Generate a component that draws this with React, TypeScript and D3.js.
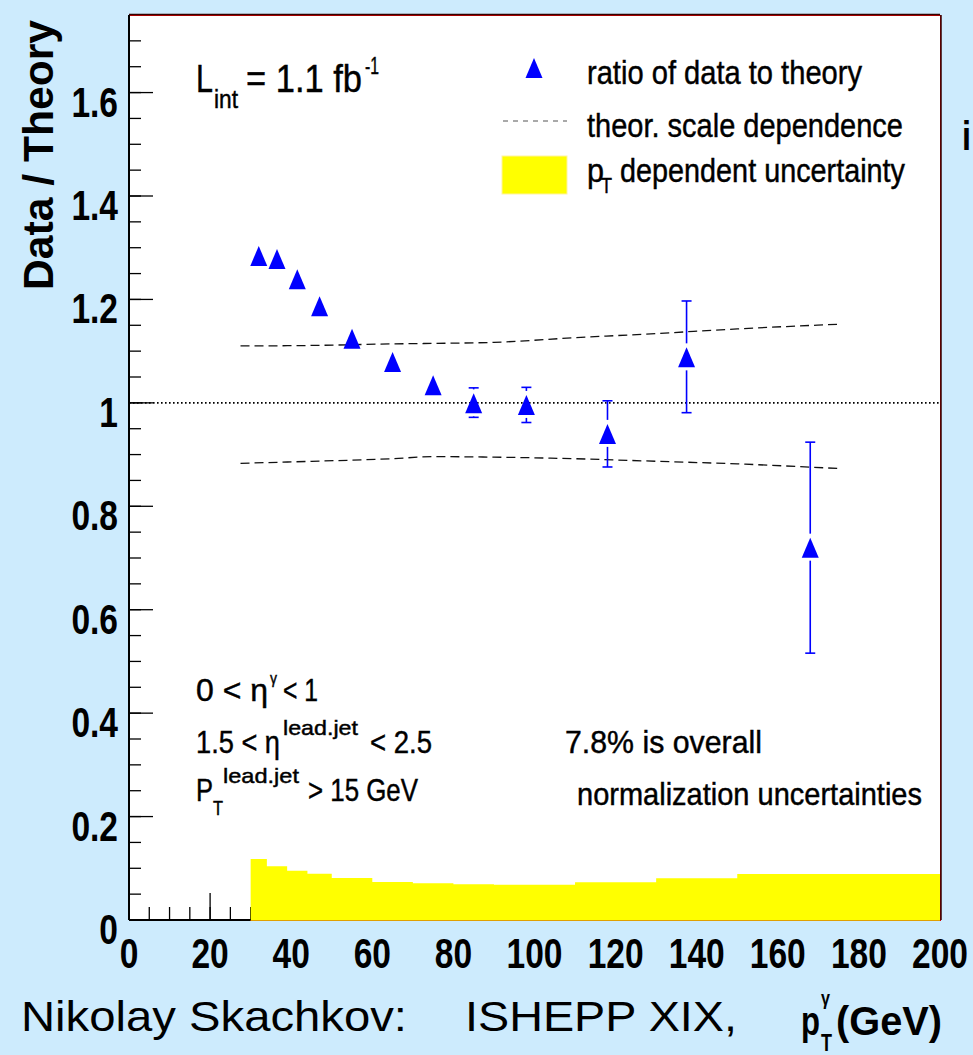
import React from "react";
import * as d3 from "d3";

// ---- data ----
const pT = [32, 36.5, 41.5, 47, 55, 65, 75, 85, 98, 118, 137.5, 168];
const ratio = [1.284, 1.278, 1.239, 1.187, 1.124, 1.079, 1.034, 0.999, 0.996, 0.94, 1.088, 0.72];
const errUp = [0.01, 0.01, 0.01, 0.01, 0.01, 0.01, 0.012, 0.03, 0.034, 0.064, 0.109, 0.204];
const errDown = [0.01, 0.01, 0.01, 0.01, 0.01, 0.01, 0.012, 0.027, 0.034, 0.064, 0.107, 0.204];

const binEdges = [30, 34, 39, 44, 50, 60, 70, 80, 90, 110, 130, 150, 200];
const ptUncert = [0.118, 0.104, 0.095, 0.0895, 0.081, 0.0734, 0.071, 0.069, 0.068, 0.0728, 0.0805, 0.0889];

const theoryX = [27.5, 45, 65, 75, 90, 110, 130, 150, 175];
const theoryUp = [1.11, 1.111, 1.114, 1.115, 1.117, 1.126, 1.134, 1.143, 1.152];
const theoryLow = [0.883, 0.887, 0.892, 0.896, 0.895, 0.892, 0.887, 0.882, 0.873];

const yMajor = [0, 0.2, 0.4, 0.6, 0.8, 1, 1.2, 1.4, 1.6];
const yMajorLabels = ["0", "0.2", "0.4", "0.6", "0.8", "1", "1.2", "1.4", "1.6"];
const xMajor = [0, 20, 40, 60, 80, 100, 120, 140, 160, 180, 200];
const xMajorLabels = ["0", "20", "40", "60", "80", "100", "120", "140", "160", "180", "200"];

const FONT = "'Liberation Sans', Arial, Helvetica, sans-serif";
const BLUE = "#0000ff";

const L = 129, R = 940, TOP = 15, BOT = 920;
const x = d3.scaleLinear().domain([0, 200]).range([L, R]);
const y = d3.scaleLinear().domain([0, 1.75]).range([BOT, TOP]);

type TP = { x: number; y: number; fs: number; w?: string; anchor?: string; len?: number; sx?: number; children: React.ReactNode; heavy?: boolean };
const T = ({ x, y, fs, w = "normal", anchor = "start", len, sx = 1, children, heavy = false }: TP) => (
  <text
    transform={`translate(${x},${y}) scale(${sx},1)`}
    fontSize={fs}
    fontWeight={w}
    textAnchor={anchor as any}
    fontFamily={FONT}
    fill="#000"
    stroke={heavy ? "#000" : "none"}
    strokeWidth={heavy ? 0.45 : 0}
    textLength={len}
    lengthAdjust={len ? "spacingAndGlyphs" : undefined}
  >
    {children}
  </text>
);

// one text element made of positioned pieces (sub/superscripts)
type Part = { t: string; x: number; y: number; fs: number; len: number };
const Rich = ({ parts, w = "normal", heavy = true }: { parts: Part[]; w?: string; heavy?: boolean }) => (
  <text fontFamily={FONT} fontWeight={w} fill="#000" stroke={heavy ? "#000" : "none"} strokeWidth={heavy ? 0.45 : 0}>
    {parts.map((p, i) => (
      <tspan key={i} x={p.x} y={p.y} fontSize={p.fs} textLength={p.len} lengthAdjust="spacingAndGlyphs">
        {p.t}
      </tspan>
    ))}
  </text>
);

const tri = (cx: number, cy: number) => `M${cx},${cy - 10}L${cx + 8.5},${cy + 10}L${cx - 8.5},${cy + 10}Z`;

export default function App() {
  const yMinor = d3.range(0, 1.7501, 0.05);
  const xMinor = d3.range(0, 200.01, 5);

  const histPath = (() => {
    let p = `M${x(binEdges[0])},${y(0)}`;
    ptUncert.forEach((v, i) => {
      p += `L${x(binEdges[i])},${y(v)}L${x(binEdges[i + 1])},${y(v)}`;
    });
    p += `L${x(binEdges[binEdges.length - 1])},${y(0)}Z`;
    return p;
  })();

  const line = d3
    .line<number>()
    .x((_, i) => x(theoryX[i]))
    .y((d) => y(d))
    .curve(d3.curveMonotoneX);

  return (
    <svg width={973} height={1055} style={{ position: "absolute", left: 0, top: 0, display: "block" }}>
      <rect x={0} y={0} width={973} height={1055} fill="#cdebfd" />
      <rect x={L} y={TOP} width={R - L} height={BOT - TOP} fill="#ffffff" />

      {/* ticks */}
      {yMinor.map((v, i) => (
        <line key={"ym" + i} x1={L} x2={L + 12} y1={y(v)} y2={y(v)} stroke="#000" strokeWidth={1.3} />
      ))}
      {yMajor.map((v, i) => (
        <line key={"yM" + i} x1={L} x2={L + 24} y1={y(v)} y2={y(v)} stroke="#000" strokeWidth={1.3} />
      ))}
      {xMinor.map((v, i) => (
        <line key={"xm" + i} x1={x(v)} x2={x(v)} y1={BOT} y2={BOT - 13} stroke="#000" strokeWidth={1.3} />
      ))}
      {xMajor.map((v, i) => (
        <line key={"xM" + i} x1={x(v)} x2={x(v)} y1={BOT} y2={BOT - 27} stroke="#000" strokeWidth={1.3} />
      ))}

      {/* yellow pT dependent uncertainty */}
      <path d={histPath} fill="#ffff00" stroke="none" />

      {/* frame */}
      <rect x={L + 0.5} y={TOP + 0.5} width={R - L} height={BOT - TOP} fill="none" stroke="#cc0000" strokeWidth={1} />
      <line x1={L} x2={L} y1={TOP} y2={BOT} stroke="#000" strokeWidth={2} />
      <line x1={L} x2={R} y1={TOP - 0.5} y2={TOP - 0.5} stroke="#300" strokeWidth={1.5} />
      <line x1={R + 1} x2={R + 1} y1={TOP} y2={BOT} stroke="#300" strokeWidth={1.5} />
      <line x1={L} x2={x(30)} y1={BOT} y2={BOT} stroke="#000" strokeWidth={2} />
      <line x1={x(30)} x2={R} y1={BOT + 0.5} y2={BOT + 0.5} stroke="#e0a000" strokeWidth={1} />

      {/* reference line at 1 */}
      <line x1={L} x2={R} y1={y(1)} y2={y(1)} stroke="#000" strokeWidth={1.6} strokeDasharray="1.6,2.4" />

      {/* theory scale dependence */}
      <path d={line(theoryUp) || ""} fill="none" stroke="#111" strokeWidth={1.3} strokeDasharray="9,5" />
      <path d={line(theoryLow) || ""} fill="none" stroke="#111" strokeWidth={1.3} strokeDasharray="9,5" />

      {/* data points */}
      {pT.map((p, i) => {
        const cx = x(p);
        const cy = y(ratio[i]);
        const yt = y(ratio[i] + errUp[i]);
        const yb = y(ratio[i] - errDown[i]);
        return (
          <g key={"pt" + i}>
            {yt < cy - 14 && (
              <g stroke={BLUE} strokeWidth={1.6}>
                <line x1={cx} x2={cx} y1={yt} y2={cy - 14} />
                <line x1={cx - 5} x2={cx + 5} y1={yt} y2={yt} />
              </g>
            )}
            {yb > cy + 13 && (
              <g stroke={BLUE} strokeWidth={1.6}>
                <line x1={cx} x2={cx} y1={cy + 13} y2={yb} />
                <line x1={cx - 5} x2={cx + 5} y1={yb} y2={yb} />
              </g>
            )}
            <path d={tri(cx, cy)} fill={BLUE} />
          </g>
        );
      })}

      {/* legend */}
      <path d={tri(534, 68)} fill={BLUE} />
      <T x={587} y={84} fs={34} len={275} heavy>ratio of data to theory</T>
      <line x1={503} x2={567} y1={121} y2={121} stroke="#555" strokeWidth={1.2} strokeDasharray="5,5" />
      <T x={587} y={137} fs={34} len={316} heavy>theor. scale dependence</T>
      <rect x={502} y={156} width={65} height={38} fill="#ffff00" stroke="#fff3a0" strokeWidth={1} />
      <Rich
        parts={[
          { t: "p", x: 587, y: 182, fs: 34, len: 17 },
          { t: "T", x: 601, y: 193, fs: 22, len: 11 },
          { t: "dependent uncertainty", x: 620, y: 182, fs: 34, len: 285 },
        ]}
      />

      {/* luminosity */}
      <Rich
        parts={[
          { t: "L", x: 196, y: 92, fs: 38, len: 17 },
          { t: "int", x: 214, y: 108, fs: 26, len: 24 },
          { t: "= 1.1 fb", x: 246, y: 92, fs: 38, len: 116 },
          { t: "-1", x: 365, y: 74, fs: 24, len: 14 },
        ]}
      />

      {/* cuts */}
      <Rich
        parts={[
          { t: "0 < η", x: 196, y: 701, fs: 32, len: 72 },
          { t: "γ", x: 270, y: 684, fs: 17, len: 7 },
          { t: "< 1", x: 283, y: 701, fs: 32, len: 35 },
        ]}
      />
      <Rich
        parts={[
          { t: "1.5 < η", x: 196, y: 753, fs: 32, len: 84 },
          { t: "lead.jet", x: 283, y: 735, fs: 21, len: 75 },
          { t: "< 2.5", x: 370, y: 753, fs: 32, len: 62 },
        ]}
      />
      <Rich
        parts={[
          { t: "P", x: 196, y: 801, fs: 32, len: 17 },
          { t: "T", x: 213, y: 815, fs: 21, len: 10 },
          { t: "lead.jet", x: 223, y: 783, fs: 21, len: 76 },
          { t: "> 15 GeV", x: 308, y: 801, fs: 32, len: 110 },
        ]}
      />

      <T x={565} y={753} fs={32} len={197} heavy>7.8% is overall</T>
      <T x={577} y={805} fs={32} len={345} heavy>normalization uncertainties</T>

      {/* tick labels */}
      {yMajor.map((v, i) => (
        <T key={"yl" + i} x={118} y={y(v) + 24} fs={43} w="bold" anchor="end" sx={0.78}>
          {yMajorLabels[i]}
        </T>
      ))}
      {xMajor.map((v, i) => (
        <T key={"xl" + i} x={x(v)} y={968} fs={43} w="bold" anchor="middle" sx={0.78}>
          {xMajorLabels[i]}
        </T>
      ))}

      {/* axis titles */}
      <text
        transform="translate(53,155) rotate(-90)"
        fontSize={42}
        fontWeight="bold"
        textAnchor="middle"
        fontFamily={FONT}
        textLength={270}
        lengthAdjust="spacingAndGlyphs"
      >
        Data / Theory
      </text>
      <Rich
        w="bold"
        heavy={false}
        parts={[
          { t: "p", x: 801, y: 1035, fs: 40, len: 19 },
          { t: "γ", x: 821, y: 1005, fs: 21, len: 9 },
          { t: "T", x: 821, y: 1051, fs: 24, len: 11 },
          { t: "(GeV)", x: 836, y: 1035, fs: 40, len: 106 },
        ]}
      />

      {/* footer */}
      <T x={21} y={1031} fs={43} len={386}>Nikolay Skachkov:</T>
      <T x={465} y={1031} fs={43} len={272}>ISHEPP XIX,</T>

      {/* neighbouring panel's cut-off label */}
      <T x={962} y={150} fs={40} w="bold" len={9}>i</T>
    </svg>
  );
}
